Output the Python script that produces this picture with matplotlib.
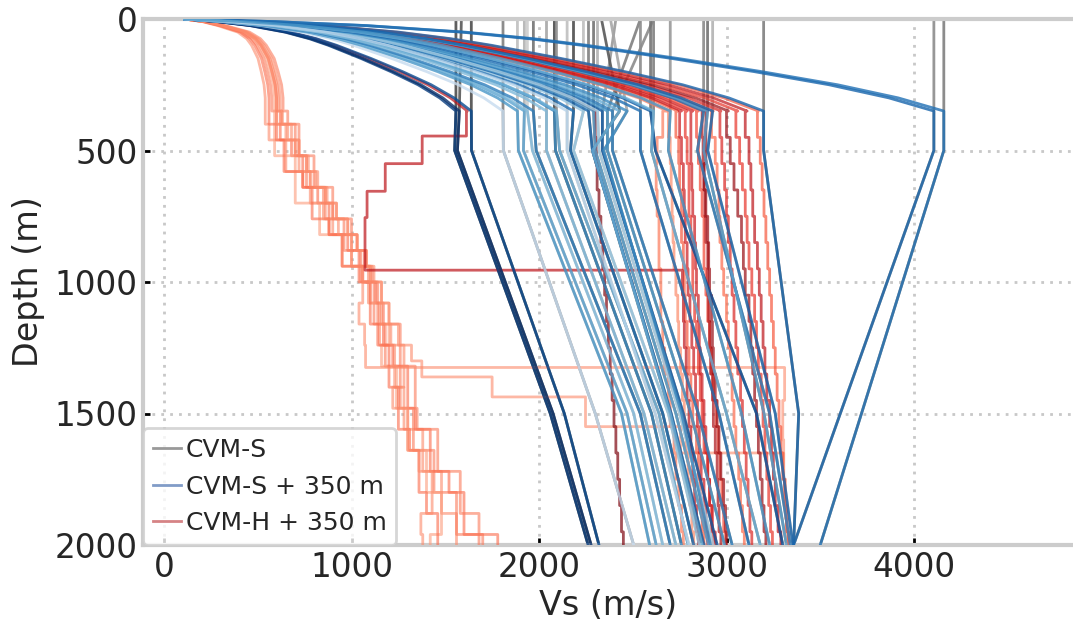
import numpy as np
import matplotlib
matplotlib.use("Agg")
import matplotlib.pyplot as plt
from matplotlib.lines import Line2D

# --- near-surface taper (top 350 m) ---
GTL_DEPTH = [0, 10, 25, 50, 75, 100, 150, 200, 250, 300, 350]
GTL_FRAC_FAST = [0.0, 0.12, 0.24, 0.37, 0.46, 0.53, 0.65, 0.76, 0.86, 0.94, 1.0]
GTL_FRAC_SLOW = [0.0, 0.22, 0.41, 0.66, 0.77, 0.83, 0.91, 0.95, 0.985, 1.0, 1.0]
VS_SURFACE = 110

# --- CVM-S (gray) / CVM-S + 350 m (blue): Vs at the nodes below ---
S_DEPTH = [350, 500, 1500, 2000]
S_TOP = [1557, 1586, 1639, 1808, 1885, 1922, 1938, 1970, 2082, 2093, 2184, 2237, 2264, 2291,
         2410, 2541, 2611, 2312, 2333, 2381, 2541, 2595, 2611, 2878, 2899, 2926, 3198, 4106,
         4159, 2040, 2150, 2700]
S_350 = [1557, 1575, 1639, 1808, 1885, 1922, 1938, 1970, 2082, 2093, 2184, 2237, 2264, 2291,
         2338, 2365, 2392, 2312, 2430, 2470, 2541, 2595, 2611, 2878, 2899, 2926, 3198, 4106,
         4159, 2040, 2150, 2700]
S_500 = [1550, 1565, 1640, 1810, 1890, 1917, 1965, 1985, 2088, 2110, 2168, 2184, 2285, 2300,
         2338, 2365, 2392, 2320, 2285, 2345, 2541, 2621, 2600, 2845, 2878, 2900, 3198, 4106,
         4159, 2040, 2150, 2690]
S_1500 = [2060, 2075, 2135, 2300, 2440, 2470, 2505, 2540, 2600, 2640, 2660, 2690, 2705, 2730,
          2770, 2810, 2850, 2750, 2700, 2760, 2960, 3160, 3000, 3230, 3200, 3260, 3385, 3607,
          3720, 2560, 2620, 3080]
S_2000 = [2262, 2278, 2320, 2505, 2590, 2625, 2660, 2700, 2760, 2795, 2825, 2855, 2880, 2905,
          2950, 2990, 3030, 2930, 2870, 2915, 3120, 3300, 3180, 3340, 3320, 3354, 3358, 3358,
          3500, 2730, 2800, 3230]
S_SHADE = [0.95, 1.0, 0.9, 0.25, 0.6, 0.55, 0.45, 0.7, 0.65, 0.5, 0.75, 0.4, 0.8, 0.55,
           0.85, 0.6, 0.7, 0.35, 0.5, 0.65, 0.75, 0.85, 0.5, 0.7, 0.55, 0.8, 0.8, 0.8,
           0.75, 0.45, 0.3, 0.6]
S_GRAY = [0.3, 0.35, 0.3, 0.5, 0.75, 0.7, 0.8, 0.45, 0.3, 0.55, 0.3, 0.75, 0.5, 0.45,
          0.6, 0.5, 0.55, 0.7, 0.35, 0.65, 0.55, 0.45, 0.5, 0.55, 0.45, 0.7, 0.5, 0.55,
          0.5, 0.65, 0.75, 0.6]

# --- CVM-H + 350 m (red), fast profiles: layer Vs between H_DEPTH nodes ---
H_DEPTH = [350, 450, 550, 650, 750, 850, 950, 1050, 1150, 1250, 1350, 1450, 1550, 1650,
           1750, 1850, 1950, 2000]
H_350 = [2685, 2740, 2790, 2820, 2850, 2880, 2930, 2970, 3010, 3060, 3110, 3170, 2300, 2700,
         2760, 2900]
H_VS = [
    [2660, 2630, 2625, 2630, 2640, 2640, 2650, 2650, 2660, 2670, 2690, 2700, 2720, 2730, 2745, 2760, 2770],
    [2730, 2745, 2750, 2760, 2760, 2770, 2775, 2780, 2790, 2800, 2810, 2820, 2840, 2850, 2860, 2870, 2880],
    [2780, 2790, 2800, 2800, 2810, 2820, 2820, 2830, 2840, 2850, 2860, 2870, 2880, 2900, 2910, 2920, 2930],
    [2810, 2810, 2815, 2820, 2830, 2835, 2840, 2850, 2855, 2860, 2870, 2880, 2890, 2900, 2910, 2925, 2940],
    [2840, 2850, 2860, 2870, 2880, 2880, 2890, 2900, 2910, 2920, 2930, 2945, 2955, 2965, 2975, 2985, 2995],
    [2870, 2875, 2880, 2885, 2890, 2900, 2900, 2905, 2910, 2915, 2925, 2930, 2940, 2950, 2955, 2960, 2970],
    [2920, 2940, 2950, 2960, 2965, 2975, 2985, 3000, 3010, 3020, 3030, 3040, 3050, 3065, 3075, 3085, 3095],
    [2965, 2975, 2990, 3000, 3010, 3020, 3030, 3040, 3050, 3060, 3075, 3085, 3095, 3105, 3115, 3125, 3135],
    [3000, 3020, 3040, 3060, 3080, 3090, 3100, 3120, 3130, 3140, 3150, 3160, 3170, 3180, 3190, 3200, 3210],
    [3050, 3070, 3085, 3100, 3110, 3120, 3135, 3150, 3160, 3170, 3185, 3195, 3205, 3215, 3225, 3235, 3245],
    [3100, 3120, 3130, 3140, 3150, 3165, 3175, 3185, 3195, 3205, 3215, 3230, 3240, 3250, 3260, 3275, 3290],
    [3165, 3180, 3190, 3200, 3210, 3220, 3230, 3240, 3250, 3260, 3270, 3280, 3290, 3300, 3310, 3320, 3330],
    [2300, 2305, 2310, 2320, 2330, 2340, 2350, 2360, 2370, 2380, 2390, 2400, 2410, 2420, 2430, 2440, 2450],
    [2690, 2700, 2705, 2710, 2715, 2720, 2730, 2740, 2745, 2755, 2765, 2775, 2785, 2795, 2805, 2815, 2825],
    [2750, 2760, 2770, 2775, 2780, 2790, 2795, 2805, 2815, 2825, 2835, 2845, 2855, 2865, 2880, 2890, 2900],
    [2890, 2890, 2880, 2890, 2900, 2905, 2910, 2920, 2925, 2930, 2940, 2950, 2960, 2970, 2985, 2995, 3000],
]
H_SHADE = [0.45, 0.55, 0.65, 0.75, 0.6, 0.85, 0.5, 0.7, 0.9, 0.65, 0.8, 0.55, 0.95, 0.4, 0.75, 0.9]

# --- CVM-H + 350 m, slow (basin) profiles ---
L_DEPTH = [350, 400, 460, 520, 580, 640, 700, 760, 820, 880, 940, 1000, 1080, 1160, 1240,
           1320, 1400, 1480, 1560, 1640, 1720, 1800, 1880, 1960, 2000]
L_350 = [540, 575, 600, 590, 635, 560, 620]
L_VS = [
    [540, 560, 650, 650, 780, 780, 900, 900, 1000, 1000, 1090, 1090, 1150, 1150, 1230, 1230, 1280, 1280, 1380, 1380, 1480, 1480, 1560, 1560],
    [600, 700, 700, 760, 760, 860, 860, 960, 960, 1050, 1050, 1120, 1120, 1180, 1180, 1260, 1260, 1330, 1330, 1440, 1440, 1560, 1560, 1700],
    [620, 620, 680, 740, 740, 820, 880, 880, 980, 1040, 1040, 1130, 1170, 1170, 1220, 1300, 1300, 1340, 1420, 1420, 1520, 1600, 1600, 1780],
    [590, 590, 590, 700, 700, 700, 830, 830, 950, 950, 1100, 1100, 1200, 1200, 1160, 1240, 1240, 1300, 1300, 1400, 1400, 1480, 1480, 1420],
    [660, 720, 720, 800, 800, 900, 900, 1000, 1030, 1080, 1110, 1140, 1140, 1260, 1260, 1340, 1340, 1350, 1460, 1460, 1580, 1580, 1680, 1680],
    [560, 600, 640, 640, 740, 790, 790, 880, 950, 950, 1060, 1100, 1100, 1140, 1200, 1200, 1250, 1250, 1310, 1360, 1360, 1400, 1460, 1460],
    [630, 660, 720, 720, 780, 850, 850, 930, 1000, 1000, 1060, 1160, 1160, 1210, 1280, 1280, 1220, 1300, 1300, 1360, 1430, 1430, 1370, 1380],
]
L_SHADE = [0.4, 0.45, 0.5, 0.35, 0.45, 0.5, 0.4]

# basin profiles that jump to fast rock at depth
A_350 = 610
A_DEPTH = [350, 400, 460, 520, 580, 640, 700, 760, 820, 880, 940, 1000, 1080, 1160, 1240,
           1325, 1450, 1600, 1750, 1900, 2000]
A_VS = [630, 680, 720, 770, 820, 870, 920, 980, 1030, 1070, 1100, 1060, 1040, 1070, 1075,
        3310, 3300, 3305, 3315, 3325]
B_350 = 600
B_DEPTH = [350, 400, 460, 520, 580, 640, 700, 760, 820, 880, 940, 1000, 1080, 1160, 1240,
           1300, 1361, 1437, 1550, 1650, 1750, 1850, 1950, 2000]
B_VS = [600, 650, 700, 760, 810, 860, 920, 980, 1030, 1080, 1120, 1160, 1200, 1250, 1320,
        1375, 1750, 2248, 2755, 3305, 3310, 3320, 3330]
J_350 = 1618
J_DEPTH = [350, 445, 550, 655, 755, 955, 1050, 1150, 1250, 1350, 1450, 1550, 1650, 1750,
           1850, 1950, 2000]
J_VS = [1613, 1377, 1180, 1083, 1072, 2765, 2770, 2775, 2785, 2790, 2800, 2810, 2820, 2830,
        2840, 2850]

X_TICKS = [0, 1000, 2000, 3000, 4000]
Y_TICKS = [0, 500, 1000, 1500, 2000]
TEXT_COLOR = '#262626'
SPINE_COLOR = '#cccccc'
LW = 2.0


def taper(v350, frac):
    return VS_SURFACE + (v350 - VS_SURFACE) * np.asarray(frac)


def staircase(depths, vs):
    y = np.repeat(depths, 2)[1:-1]
    x = np.repeat(vs, 2)
    return x, y


def red_profile(v350, depths, vs, frac):
    sx, sy = staircase(depths, vs)
    return np.concatenate([taper(v350, frac), sx]), np.concatenate([GTL_DEPTH, sy])


plt.rcParams['font.family'] = 'DejaVu Sans'
fig = plt.figure(figsize=(10.73, 6.26), dpi=100)
ax = fig.add_axes([143 / 1073, 81 / 626, 930 / 1073, 526 / 626])

# gray CVM-S
for i in range(len(S_TOP)):
    g = S_GRAY[i]
    ax.plot([S_TOP[i], S_350[i], S_500[i], S_1500[i], S_2000[i]], [0] + S_DEPTH,
            color=(g, g, g), lw=LW, alpha=0.9, zorder=2)

# red CVM-H + 350 m
reds = plt.cm.Reds
for i in range(len(L_VS)):
    x, y = red_profile(L_350[i], L_DEPTH, L_VS[i], GTL_FRAC_SLOW)
    ax.plot(x, y, color=reds(L_SHADE[i]), lw=LW, alpha=0.6, zorder=3)
x, y = red_profile(A_350, A_DEPTH, A_VS, GTL_FRAC_SLOW)
ax.plot(x, y, color=reds(0.4), lw=LW, alpha=0.6, zorder=3)
x, y = red_profile(B_350, B_DEPTH, B_VS, GTL_FRAC_SLOW)
ax.plot(x, y, color=reds(0.4), lw=LW, alpha=0.6, zorder=3)
for i in range(len(H_VS)):
    x, y = red_profile(H_350[i], H_DEPTH, H_VS[i], GTL_FRAC_FAST)
    ax.plot(x, y, color=reds(H_SHADE[i]), lw=LW, alpha=0.7, zorder=3)
x, y = red_profile(J_350, J_DEPTH, J_VS, GTL_FRAC_FAST)
ax.plot(x, y, color=reds(0.8), lw=LW, alpha=0.7, zorder=3)

# blue CVM-S + 350 m
blues = plt.cm.Blues
for i in range(len(S_350)):
    x = np.concatenate([taper(S_350[i], GTL_FRAC_FAST), [S_500[i], S_1500[i], S_2000[i]]])
    y = np.concatenate([GTL_DEPTH, S_DEPTH[1:]])
    ax.plot(x, y, color=blues(S_SHADE[i]), lw=LW, alpha=0.8, zorder=4)

ax.set_xlim(-112, 4848)
ax.set_ylim(2000, 0)
ax.set_xticks(X_TICKS)
ax.set_yticks(Y_TICKS)
ax.set_axisbelow(True)
ax.grid(True, color='#c8c8c8', lw=2, linestyle=(0, (1, 2.2)))
ax.tick_params(direction='in', length=5, width=2, color='black', pad=4,
               labelsize=23.5, labelcolor=TEXT_COLOR)
for side in ['left', 'top', 'bottom']:
    ax.spines[side].set_color(SPINE_COLOR)
    ax.spines[side].set_linewidth(3)
ax.spines['right'].set_visible(False)
ax.set_xlabel('Vs (m/s)', fontsize=24, color=TEXT_COLOR, labelpad=4)
ax.set_ylabel('Depth (m)', fontsize=24, color=TEXT_COLOR, labelpad=7)

handles = [Line2D([], [], color='gray', alpha=0.8, lw=2),
           Line2D([], [], color='#4c72b0', alpha=0.7, lw=2),
           Line2D([], [], color='#c44e52', alpha=0.7, lw=2)]
leg = ax.legend(handles, ['CVM-S', 'CVM-S + 350 m', 'CVM-H + 350 m'], loc='lower left',
                bbox_to_anchor=(0, 0), borderaxespad=0, fontsize=18, handlelength=1.1,
                handletextpad=0.2, framealpha=0.8)
leg.get_frame().set_edgecolor(SPINE_COLOR)
leg.get_frame().set_linewidth(2)
for t in leg.get_texts():
    t.set_color(TEXT_COLOR)
leg.set_zorder(10)

fig.savefig('out.png', dpi=100)
